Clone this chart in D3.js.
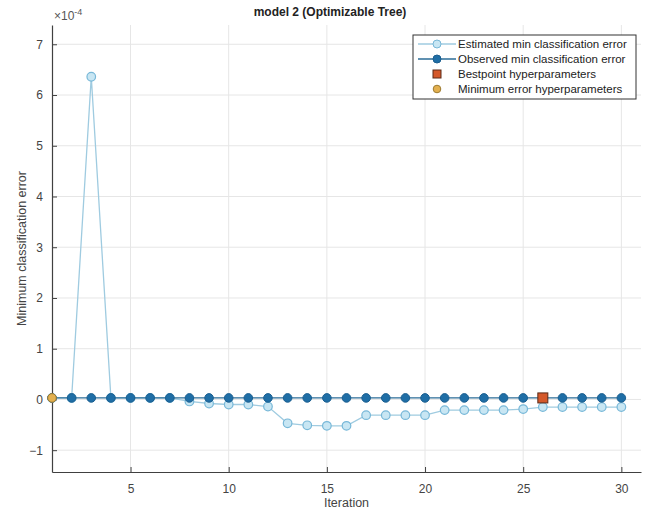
<!DOCTYPE html>
<html>
<head>
<meta charset="utf-8">
<script src="https://cdn.jsdelivr.net/npm/d3@7"></script>
<style>
  body { margin: 0; background: #fff; }
  text { font-family: "Liberation Sans", Arial, sans-serif; }
</style>
</head>
<body>
<div class="container"></div>
<script>
const WIDTH = 650;
const HEIGHT = 516;

// values in units of 1e-4
var iterations = d3.range(1, 31);
var estimated = [0.03, 0.03, 6.36, 0.03, 0.03, 0.03, 0.03, -0.04, -0.08, -0.1,
  -0.1, -0.14, -0.47, -0.51, -0.52, -0.52, -0.31, -0.31, -0.31, -0.31,
  -0.21, -0.21, -0.21, -0.21, -0.19, -0.15, -0.15, -0.15, -0.15, -0.15];
var observed = [0.03, 0.03, 0.03, 0.03, 0.03, 0.03, 0.03, 0.03, 0.03, 0.03,
  0.03, 0.03, 0.03, 0.03, 0.03, 0.03, 0.03, 0.03, 0.03, 0.03,
  0.03, 0.03, 0.03, 0.03, 0.03, 0.03, 0.03, 0.03, 0.03, 0.03];
var bestpoint = [26, 0.03];
var minError = [1, 0.03];
var xTicks = [5, 10, 15, 20, 25, 30];
var yTicks = [-1, 0, 1, 2, 3, 4, 5, 6, 7];
var legendLabels = ['Estimated min classification error', 'Observed min classification error',
  'Bestpoint hyperparameters', 'Minimum error hyperparameters'];

var margin = { left: 52, right: 9, top: 25, bottom: 44 };

var svg = d3.select('.container').append('svg')
  .attr('width', WIDTH)
  .attr('height', HEIGHT);

var x = d3.scaleLinear().domain([1, 31]).range([margin.left, WIDTH - margin.right]);
var y = d3.scaleLinear().domain([-1.43, 7.38]).range([HEIGHT - margin.bottom, margin.top]);

// grid
var grid = svg.append('g').attr('stroke', '#e6e6e6').attr('stroke-width', 1);
grid.selectAll('.gx').data(xTicks).enter().append('line')
  .attr('x1', function (d) { return x(d); }).attr('x2', function (d) { return x(d); })
  .attr('y1', y.range()[0]).attr('y2', y.range()[1]);
grid.selectAll('.gy').data(yTicks).enter().append('line')
  .attr('y1', function (d) { return y(d); }).attr('y2', function (d) { return y(d); })
  .attr('x1', x.range()[0]).attr('x2', x.range()[1]);

// axes
var xAxis = svg.append('g')
  .attr('transform', 'translate(0,' + y.range()[0] + ')')
  .call(d3.axisBottom(x).tickValues(xTicks).tickSizeInner(-5).tickSizeOuter(0).tickPadding(12));
var yAxis = svg.append('g')
  .attr('transform', 'translate(' + x.range()[0] + ',0)')
  .call(d3.axisLeft(y).tickValues(yTicks).tickSizeInner(-5).tickSizeOuter(0).tickPadding(9));
[xAxis, yAxis].forEach(function (a) {
  a.select('.domain').attr('stroke', '#404040').attr('stroke-width', 1.2);
  a.selectAll('.tick line').attr('stroke', '#404040');
  a.selectAll('.tick text').attr('fill', '#444').style('font-size', '12px')
    .style('font-family', '"Liberation Sans", Arial, sans-serif');
});

// exponent label
var expo = svg.append('text').attr('x', 54).attr('y', 20).attr('fill', '#555').style('font-size', '12px');
expo.append('tspan').text('\u00d710');
expo.append('tspan').attr('dy', -5).style('font-size', '9px').text('-4');

// labels
svg.append('text').attr('x', 330).attr('y', 16).attr('text-anchor', 'middle')
  .style('font-size', '12px').style('font-weight', 'bold').attr('fill', '#222')
  .text('model 2 (Optimizable Tree)');
svg.append('text').attr('x', (x.range()[0] + x.range()[1]) / 2).attr('y', 507)
  .attr('text-anchor', 'middle').style('font-size', '12.5px').attr('fill', '#444').text('Iteration');
svg.append('text').attr('transform', 'translate(26,' + ((y.range()[0] + y.range()[1]) / 2) + ') rotate(-90)')
  .attr('text-anchor', 'middle').style('font-size', '12.5px').attr('fill', '#444')
  .text('Minimum classification error');

var line = d3.line()
  .x(function (d) { return x(d[0]); })
  .y(function (d) { return y(d[1]); });

var estData = iterations.map(function (it, i) { return [it, estimated[i]]; });
var obsData = iterations.map(function (it, i) { return [it, observed[i]]; });

var estColor = { line: '#9fcbe0', fill: '#c8e6f3', stroke: '#78b8d8' };
var obsColor = { line: '#2b6d97', fill: '#1f6ea6', stroke: '#1b5f90' };

svg.append('path').datum(estData).attr('d', line)
  .attr('fill', 'none').attr('stroke', estColor.line).attr('stroke-width', 1.3);
svg.selectAll('.est').data(estData).enter().append('circle')
  .attr('cx', function (d) { return x(d[0]); }).attr('cy', function (d) { return y(d[1]); })
  .attr('r', 4.3).attr('fill', estColor.fill).attr('stroke', estColor.stroke).attr('stroke-width', 1.2);

svg.append('path').datum(obsData).attr('d', line)
  .attr('fill', 'none').attr('stroke', obsColor.line).attr('stroke-width', 1.3);
svg.selectAll('.obs').data(obsData).enter().append('circle')
  .attr('cx', function (d) { return x(d[0]); }).attr('cy', function (d) { return y(d[1]); })
  .attr('r', 4.3).attr('fill', obsColor.fill).attr('stroke', obsColor.stroke).attr('stroke-width', 1);

svg.append('rect')
  .attr('x', x(bestpoint[0]) - 5).attr('y', y(bestpoint[1]) - 5)
  .attr('width', 10).attr('height', 10)
  .attr('fill', '#d4582a').attr('stroke', '#5a2a18').attr('stroke-width', 1);
svg.append('circle')
  .attr('cx', x(minError[0])).attr('cy', y(minError[1])).attr('r', 4.3)
  .attr('fill', '#e3b04f').attr('stroke', '#9c7a30').attr('stroke-width', 1);

// legend
var lg = svg.append('g').attr('transform', 'translate(413,35)');
lg.append('rect').attr('width', 223).attr('height', 64)
  .attr('fill', '#fff').attr('stroke', '#333').attr('stroke-width', 1);
var rows = lg.selectAll('.row').data(legendLabels).enter().append('g')
  .attr('transform', function (d, i) { return 'translate(0,' + (9 + i * 15) + ')'; });
rows.append('text').attr('x', 45).attr('y', 4).style('font-size', '11.5px').attr('fill', '#222')
  .text(function (d) { return d; });
rows.each(function (d, i) {
  var g = d3.select(this);
  if (i < 2) {
    var c = i === 0 ? estColor : obsColor;
    g.append('line').attr('x1', 5).attr('x2', 43).attr('y1', 0).attr('y2', 0)
      .attr('stroke', c.line).attr('stroke-width', 1.3);
    g.append('circle').attr('cx', 24).attr('cy', 0).attr('r', 4)
      .attr('fill', c.fill).attr('stroke', c.stroke);
  } else if (i === 2) {
    g.append('rect').attr('x', 20).attr('y', -4).attr('width', 8).attr('height', 8)
      .attr('fill', '#d4582a').attr('stroke', '#5a2a18');
  } else {
    g.append('circle').attr('cx', 24).attr('cy', 0).attr('r', 3.8)
      .attr('fill', '#e3b04f').attr('stroke', '#9c7a30');
  }
});
</script>
</body>
</html>
